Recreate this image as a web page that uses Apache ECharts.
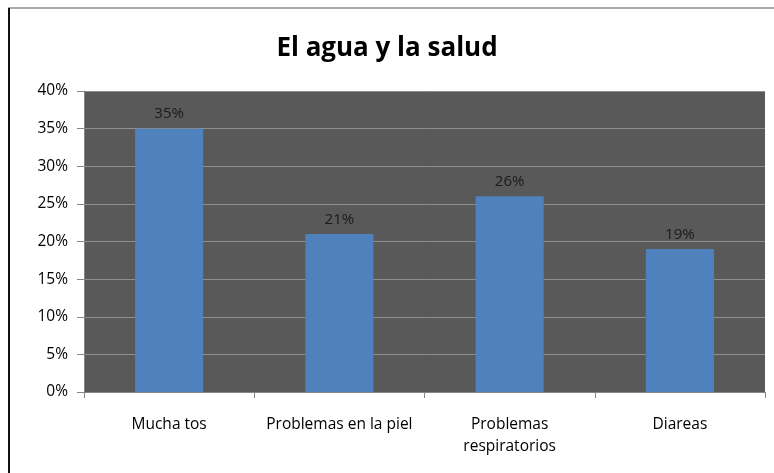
<!DOCTYPE html>
<html><head><meta charset="utf-8">
<script src="https://cdn.jsdelivr.net/npm/echarts@6/dist/echarts.min.js"></script>
<style>html,body{margin:0;padding:0;background:#fff}#c{width:774px;height:473px}</style>
</head><body><div id="c"></div>
<script>
const titleText = "El agua y la salud";
const categories = ["Mucha tos", "Problemas en la piel", "Problemas\nrespiratorios", "Diareas"];
const values = [35, 21, 26, 19];
const yTicks = [0, 5, 10, 15, 20, 25, 30, 35, 40];

const chart = echarts.init(document.getElementById('c'), null, {renderer: 'canvas'});
const font = "'Open Sans', 'Noto Sans', sans-serif";
chart.setOption({
  animation: false,
  backgroundColor: '#fff',
  title: {
    text: titleText, left: 'center', top: 31,
    textStyle: {fontFamily: font, fontWeight: 'bold', fontSize: 26, color: '#000'}
  },
  graphic: [
    {type: 'line', shape: {x1: 8, y1: 8, x2: 774, y2: 8}, style: {stroke: '#8c8c8c', lineWidth: 1.5}},
    {type: 'line', shape: {x1: 9, y1: 8, x2: 9, y2: 473}, style: {stroke: '#111', lineWidth: 2}}
  ],
  grid: {left: 84, right: 9, top: 91, bottom: 81, show: true, backgroundColor: '#595959', borderWidth: 0},
  xAxis: {
    type: 'category', data: categories,
    axisLine: {lineStyle: {color: '#868686'}},
    axisTick: {show: true, length: 6, lineStyle: {color: '#868686'}},
    axisLabel: {interval: 0, hideOverlap: false, fontFamily: font, fontSize: 15.5, color: '#000', margin: 22, lineHeight: 22}
  },
  yAxis: {
    type: 'value', min: yTicks[0], max: yTicks[yTicks.length - 1], interval: 5,
    axisLine: {show: true, lineStyle: {color: '#868686'}},
    axisTick: {show: true, length: 7, lineStyle: {color: '#868686'}},
    splitLine: {lineStyle: {color: '#8f8f8f', width: 1}},
    axisLabel: {fontFamily: font, fontSize: 15.5, color: '#000', margin: 16, formatter: v => v + '%'}
  },
  series: [{
    type: 'bar', data: values, barWidth: '40%',
    itemStyle: {color: '#4F81BD'},
    label: {show: true, position: 'top', distance: 7, formatter: p => p.value + '%',
      fontFamily: font, fontSize: 15, color: '#1a1a1a'}
  }]
});
</script></body></html>
